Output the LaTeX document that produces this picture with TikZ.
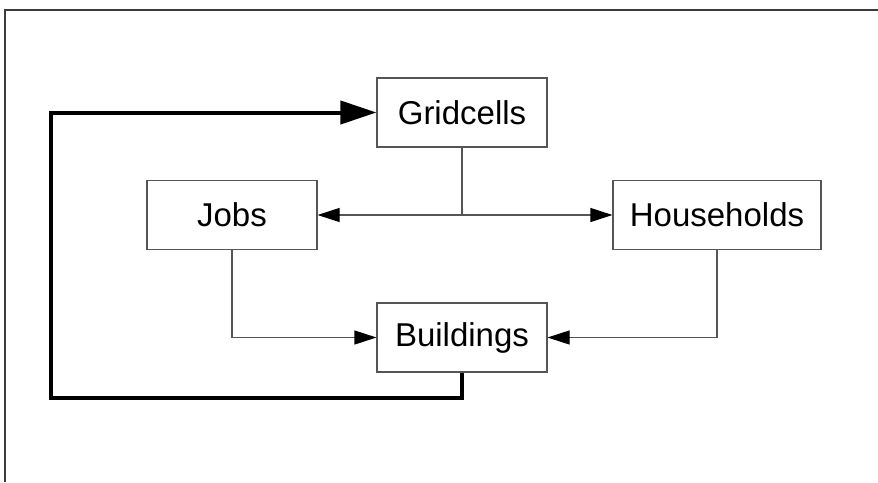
\documentclass[tikz,border=0pt]{standalone}
\usepackage{fontspec}
\setmainfont{Liberation Sans}
\usetikzlibrary{arrows.meta}
\definecolor{boxgray}{RGB}{85,85,85}
\definecolor{framegray}{RGB}{60,60,60}
\begin{document}
\begin{tikzpicture}[x=1pt,y=-1pt,
  box/.style={draw=boxgray, line width=1.1pt, minimum width=170pt, minimum height=69pt,
    inner sep=0pt, font=\fontsize{33}{36}\selectfont, fill=white},
  thinline/.style={draw=boxgray, line width=1.1pt},
  thinarrow/.style={thinline, -{Triangle[length=22pt,width=14pt,color=black]}},
  thickarrow/.style={draw=black, line width=4pt, line join=miter,
    -{Triangle[length=36pt,width=23pt,color=black]}},
  frameline/.style={draw=framegray, line width=1.2pt}]
\useasboundingbox (0,0) rectangle (878,482);
\draw[frameline] (5,482) -- (5,10) -- (878,10);
\node[box] (grid) at (462,112.5) {Gridcells};
\node[box] (jobs) at (232,215) {Jobs};
\node[box, minimum width=208pt] (hh) at (717,215) {Households};
\node[box] (bld) at (462,337.5) {Buildings};
\coordinate (junc) at (grid.south |- jobs.east);
\coordinate (loop) at (51,398);
\draw[thinline] (grid.south) -- (junc);
\draw[thinarrow] (junc) -- (jobs.east);
\draw[thinarrow] (junc) -- (hh.west);
\draw[thinarrow] (jobs.south) |- (bld.west);
\draw[thinarrow] (hh.south) |- (bld.east);
\draw[thickarrow] (bld.south) |- (loop) |- (grid.west);
\end{tikzpicture}
\end{document}
